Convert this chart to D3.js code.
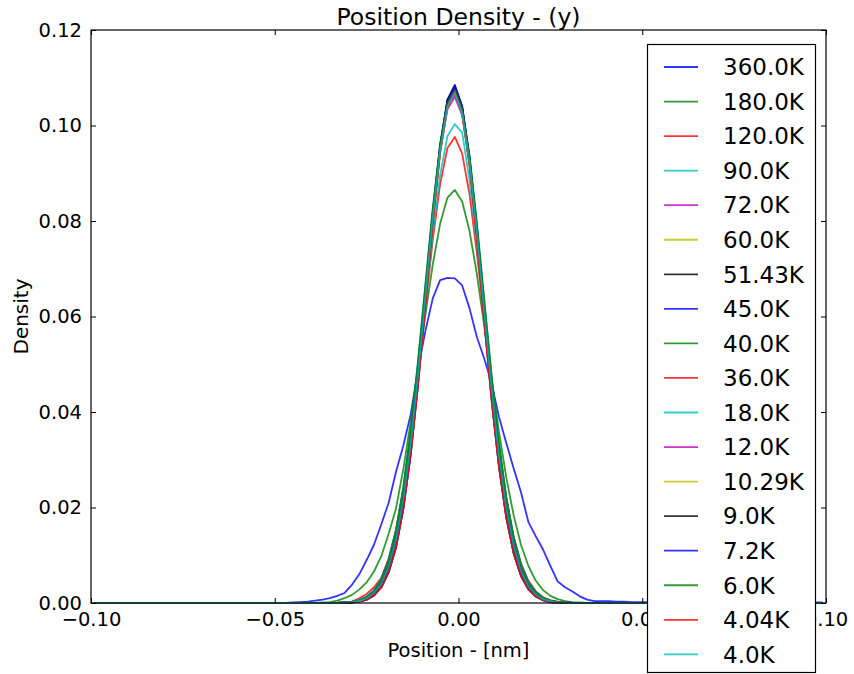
<!DOCTYPE html>
<html>
<head>
<meta charset="utf-8">
<script src="https://cdn.jsdelivr.net/npm/d3@7"></script>
<style>
  html, body { margin: 0; padding: 0; background: #ffffff; }
  svg { display: block; }
  text { font-family: "DejaVu Sans", sans-serif; fill: #000; }
</style>
</head>
<body>
<svg id="chart" width="854" height="674"></svg>
<script>
// ---------------- DATA ----------------
const positions = [-0.099,
  -0.049, -0.047, -0.045, -0.043, -0.041, -0.039, -0.037, -0.035, -0.033, -0.031,
  -0.029, -0.027, -0.025, -0.023, -0.021, -0.019, -0.017, -0.015, -0.013, -0.011,
  -0.009, -0.007, -0.005, -0.003, -0.001,
  0.001, 0.003, 0.005, 0.007, 0.009, 0.011, 0.013, 0.015, 0.017, 0.019,
  0.021, 0.023, 0.025, 0.027, 0.029, 0.031, 0.033, 0.035, 0.037, 0.039,
  0.041, 0.043, 0.045, 0.047, 0.049,
  0.099];

const seriesLabels = ["360.0K", "180.0K", "120.0K", "90.0K", "72.0K", "60.0K", "51.43K", "45.0K", "40.0K",
  "36.0K", "18.0K", "12.0K", "10.29K", "9.0K", "7.2K", "6.0K", "4.04K", "4.0K"];

const d360 = [0,
  0, 0, 0.0001, 0.0002, 0.0003, 0.0005, 0.0007, 0.0010, 0.0015, 0.0021,
  0.0038, 0.0060, 0.0090, 0.0122, 0.0165, 0.0210, 0.0275, 0.0330, 0.0395, 0.0490,
  0.0570, 0.0638, 0.0676, 0.0681, 0.0680,
  0.0665, 0.0617, 0.0557, 0.0512, 0.0460, 0.0390, 0.0335, 0.0282, 0.0232, 0.0170,
  0.0140, 0.0112, 0.0078, 0.0045, 0.0033, 0.0024, 0.0014, 0.0007, 0.0004, 0.0004,
  0.0004, 0.0003, 0.0003, 0.0002, 0.0002,
  0.0001];
const d180 = [0,
  0, 0, 0, 0, 0, 0, 0.0001, 0.0002, 0.0005, 0.0010,
  0.0017, 0.0028, 0.0043, 0.0066, 0.0098, 0.0145, 0.0198, 0.0281, 0.0380, 0.0490,
  0.0604, 0.0709, 0.0794, 0.0849, 0.0865,
  0.0841, 0.0779, 0.0689, 0.0581, 0.0468, 0.0359, 0.0263, 0.0184, 0.0122, 0.0078,
  0.0047, 0.0027, 0.0015, 0.0008, 0.0004, 0.0002, 0.0001, 0, 0, 0,
  0, 0, 0, 0, 0,
  0];
const d120 = [0, 0,0,0,0,0,0,0,0,0,
  0.0001, 0.0003, 0.0010, 0.0019, 0.0033, 0.0053, 0.0093, 0.0153, 0.0237, 0.0347, 0.0478, 0.0621, 0.0760, 0.0877, 0.0953,
  0.0976,
  0.0941, 0.0856, 0.0733, 0.0592, 0.0450, 0.0323, 0.0218, 0.0139, 0.0083, 0.0047, 0.0025, 0.0012, 0.0006, 0.0003, 0.0001,
  0,0,0,0,0,0,0,0,0,0, 0];
const d90 = [0, 0,0,0,0,0,0,0,0,0,
  0.0001, 0.0002, 0.0006, 0.0012, 0.0024, 0.0047, 0.0084, 0.0143, 0.0227, 0.0338, 0.0474, 0.0624, 0.0771, 0.0896, 0.0978,
  0.1003,
  0.0985, 0.0885, 0.0750, 0.0597, 0.0447, 0.0314, 0.0208, 0.0129, 0.0075, 0.0041, 0.0021, 0.0010, 0.0005, 0.0002, 0.0001,
  0,0,0,0,0,0,0,0,0,0, 0];
const d72 = [0, 0,0,0,0,0,0,0,0,0,
  0.0001, 0.0003, 0.0006, 0.0013, 0.0026, 0.0050, 0.0089, 0.0151, 0.0239, 0.0357, 0.0501, 0.0659, 0.0815, 0.0947, 0.1034,
  0.1060,
  0.1021, 0.0924, 0.0785, 0.0627, 0.0470, 0.0331, 0.0219, 0.0136, 0.0080, 0.0044, 0.0023, 0.0011, 0.0005, 0.0002, 0.0001,
  0,0,0,0,0,0,0,0,0,0, 0];
const d60 = [0, 0,0,0,0,0,0,0,0,0,
  0.0001, 0.0002, 0.0004, 0.0010, 0.0021, 0.0041, 0.0077, 0.0134, 0.0219, 0.0335, 0.0480, 0.0643, 0.0807, 0.0947, 0.1039,
  0.1068,
  0.1026, 0.0922, 0.0775, 0.0610, 0.0449, 0.0309, 0.0200, 0.0121, 0.0068, 0.0036, 0.0018, 0.0008, 0.0004, 0.0001, 0.0001,
  0,0,0,0,0,0,0,0,0,0, 0];
const d5143 = [0, 0,0,0,0,0,0,0,0,0,
  0, 0.0001, 0.0003, 0.0007, 0.0016, 0.0033, 0.0065, 0.0118, 0.0200, 0.0315, 0.0462, 0.0632, 0.0805, 0.0954, 0.1054,
  0.1085,
  0.1039, 0.0928, 0.0771, 0.0597, 0.0430, 0.0289, 0.0181, 0.0105, 0.0057, 0.0029, 0.0014, 0.0006, 0.0002, 0.0001, 0,
  0,0,0,0,0,0,0,0,0,0, 0];
const d45 = [0, 0,0,0,0,0,0,0,0,0,
  0.0001, 0.0002, 0.0004, 0.0010, 0.0021, 0.0042, 0.0078, 0.0136, 0.0222, 0.0340, 0.0486, 0.0652, 0.0818, 0.0960, 0.1054,
  0.1083,
  0.1040, 0.0935, 0.0786, 0.0618, 0.0455, 0.0314, 0.0202, 0.0122, 0.0069, 0.0037, 0.0018, 0.0009, 0.0004, 0.0002, 0.0001,
  0,0,0,0,0,0,0,0,0,0, 0];
const d40 = [0, 0,0,0,0,0,0,0,0,0,
  0, 0.0001, 0.0003, 0.0007, 0.0016, 0.0033, 0.0064, 0.0117, 0.0198, 0.0313, 0.0459, 0.0628, 0.0799, 0.0948, 0.1047,
  0.1078,
  0.1033, 0.0922, 0.0766, 0.0593, 0.0428, 0.0287, 0.0180, 0.0105, 0.0057, 0.0029, 0.0013, 0.0006, 0.0002, 0.0001, 0,
  0,0,0,0,0,0,0,0,0,0, 0];
const d36 = [0, 0,0,0,0,0,0,0,0,0,
  0.0001, 0.0002, 0.0004, 0.0010, 0.0021, 0.0042, 0.0077, 0.0135, 0.0220, 0.0336, 0.0481, 0.0645, 0.0810, 0.0950, 0.1043,
  0.1072,
  0.1030, 0.0925, 0.0778, 0.0612, 0.0450, 0.0310, 0.0200, 0.0121, 0.0069, 0.0036, 0.0018, 0.0008, 0.0004, 0.0002, 0.0001,
  0,0,0,0,0,0,0,0,0,0, 0];
const d18 = [0, 0,0,0,0,0,0,0,0,0,
  0.0001, 0.0003, 0.0006, 0.0013, 0.0026, 0.0050, 0.0090, 0.0152, 0.0242, 0.0361, 0.0505, 0.0665, 0.0823, 0.0956, 0.1043,
  0.1070,
  0.1030, 0.0932, 0.0792, 0.0633, 0.0475, 0.0334, 0.0221, 0.0138, 0.0080, 0.0044, 0.0023, 0.0011, 0.0005, 0.0002, 0.0001,
  0,0,0,0,0,0,0,0,0,0, 0];
const d12 = [0, 0,0,0,0,0,0,0,0,0,
  0.0001, 0.0002, 0.0004, 0.0010, 0.0021, 0.0041, 0.0077, 0.0134, 0.0219, 0.0334, 0.0479, 0.0642, 0.0805, 0.0945, 0.1038,
  0.1066,
  0.1024, 0.0920, 0.0773, 0.0608, 0.0448, 0.0309, 0.0199, 0.0120, 0.0068, 0.0036, 0.0018, 0.0008, 0.0004, 0.0001, 0.0001,
  0,0,0,0,0,0,0,0,0,0, 0];
const d1029 = [0, 0,0,0,0,0,0,0,0,0,
  0, 0.0001, 0.0003, 0.0007, 0.0016, 0.0033, 0.0064, 0.0116, 0.0197, 0.0310, 0.0456, 0.0623, 0.0794, 0.0941, 0.1039,
  0.1070,
  0.1025, 0.0915, 0.0760, 0.0589, 0.0424, 0.0285, 0.0178, 0.0104, 0.0056, 0.0028, 0.0013, 0.0006, 0.0002, 0.0001, 0,
  0,0,0,0,0,0,0,0,0,0, 0];
const d9 = [0, 0,0,0,0,0,0,0,0,0,
  0.0001, 0.0002, 0.0004, 0.0010, 0.0021, 0.0042, 0.0078, 0.0136, 0.0221, 0.0339, 0.0485, 0.0650, 0.0816, 0.0957, 0.1051,
  0.1080,
  0.1037, 0.0932, 0.0784, 0.0616, 0.0454, 0.0313, 0.0202, 0.0122, 0.0069, 0.0037, 0.0018, 0.0009, 0.0004, 0.0002, 0.0001,
  0,0,0,0,0,0,0,0,0,0, 0];
const d72b = [0, 0,0,0,0,0,0,0,0,0,
  0, 0.0001, 0.0003, 0.0007, 0.0016, 0.0033, 0.0065, 0.0118, 0.0199, 0.0314, 0.0461, 0.0630, 0.0802, 0.0952, 0.1051,
  0.1082,
  0.1036, 0.0925, 0.0769, 0.0595, 0.0429, 0.0288, 0.0180, 0.0105, 0.0057, 0.0029, 0.0014, 0.0006, 0.0002, 0.0001, 0,
  0,0,0,0,0,0,0,0,0,0, 0];
const d6 = [0, 0,0,0,0,0,0,0,0,0,
  0.0001, 0.0003, 0.0006, 0.0013, 0.0026, 0.0050, 0.0090, 0.0153, 0.0243, 0.0362, 0.0508, 0.0668, 0.0827, 0.0960, 0.1048,
  0.1075,
  0.1035, 0.0937, 0.0796, 0.0636, 0.0477, 0.0336, 0.0223, 0.0138, 0.0081, 0.0044, 0.0023, 0.0011, 0.0005, 0.0002, 0.0001,
  0,0,0,0,0,0,0,0,0,0, 0];
const d404 = [0, 0,0,0,0,0,0,0,0,0,
  0, 0.0001, 0.0003, 0.0007, 0.0016, 0.0033, 0.0065, 0.0116, 0.0198, 0.0311, 0.0457, 0.0624, 0.0795, 0.0943, 0.1041,
  0.1072,
  0.1027, 0.0916, 0.0761, 0.0590, 0.0425, 0.0286, 0.0179, 0.0104, 0.0057, 0.0029, 0.0014, 0.0006, 0.0002, 0.0001, 0,
  0,0,0,0,0,0,0,0,0,0, 0];
const d4 = [0, 0,0,0,0,0,0,0,0,0,
  0.0001, 0.0002, 0.0004, 0.0010, 0.0021, 0.0041, 0.0077, 0.0134, 0.0219, 0.0335, 0.0481, 0.0644, 0.0808, 0.0948, 0.1040,
  0.1069,
  0.1027, 0.0923, 0.0776, 0.0611, 0.0450, 0.0310, 0.0200, 0.0121, 0.0068, 0.0036, 0.0018, 0.0008, 0.0004, 0.0001, 0.0001,
  0,0,0,0,0,0,0,0,0,0, 0];

const seriesValues = [d360, d180, d120, d90, d72, d60, d5143, d45, d40, d36, d18, d12, d1029, d9, d72b, d6, d404, d4];

const xTicks = [-0.10, -0.05, 0.00, 0.05, 0.10];
const yTicks = [0.00, 0.02, 0.04, 0.06, 0.08, 0.10, 0.12];

// matplotlib classic colour cycle
const palette = ["#0000ff", "#008000", "#ff0000", "#00bfbf", "#bf00bf", "#bfbf00", "#000000"];

// ---------------- CHART ----------------
seriesValues.forEach((s, i) => {
  if (s.length !== positions.length) throw new Error("Length mismatch in series " + seriesLabels[i] + ": " + s.length);
});

const margin = { left: 91, top: 30, right: 826, bottom: 603 };
const svg = d3.select("#chart");

const x = d3.scaleLinear().domain([-0.10, 0.10]).range([margin.left, margin.right]);
const y = d3.scaleLinear().domain([0, 0.12]).range([margin.bottom, margin.top]);

svg.append("defs").append("clipPath").attr("id", "clip")
  .append("rect")
  .attr("x", margin.left).attr("y", margin.top - 1)
  .attr("width", margin.right - margin.left).attr("height", margin.bottom - margin.top + 2);

const line = d3.line()
  .x((d, i) => x(positions[i]))
  .y(d => y(d));

const lines = svg.append("g").attr("clip-path", "url(#clip)");
seriesValues.forEach((s, i) => {
  lines.append("path")
    .attr("d", line(s))
    .attr("fill", "none")
    .attr("stroke", palette[i % palette.length])
    .attr("stroke-opacity", 0.8)
    .attr("stroke-width", 1.8)
    .attr("stroke-linejoin", "round");
});

// axes (ticks inside, on all four sides)
const fmtX = v => d3.format(".2f")(v).replace("-", "\u2212");
const fmtY = d3.format(".2f");

const xBottom = svg.append("g").attr("transform", `translate(0,${margin.bottom})`)
  .call(d3.axisBottom(x).tickValues(xTicks).tickFormat(fmtX).tickSizeInner(-5).tickSizeOuter(0).tickPadding(9));
const xTop = svg.append("g").attr("transform", `translate(0,${margin.top})`)
  .call(d3.axisTop(x).tickValues(xTicks).tickFormat("").tickSizeInner(-5).tickSizeOuter(0));
const yLeft = svg.append("g").attr("transform", `translate(${margin.left},0)`)
  .call(d3.axisLeft(y).tickValues(yTicks).tickFormat(fmtY).tickSizeInner(-5).tickSizeOuter(0).tickPadding(9));
const yRight = svg.append("g").attr("transform", `translate(${margin.right},0)`)
  .call(d3.axisRight(y).tickValues(yTicks).tickFormat("").tickSizeInner(-5).tickSizeOuter(0));

[xBottom, xTop, yLeft, yRight].forEach(g => {
  g.select(".domain").remove();
  g.selectAll(".tick line").attr("stroke", "#000").attr("stroke-width", 1);
  g.selectAll(".tick text").attr("font-size", 19.5).attr("font-family", "DejaVu Sans").attr("fill", "#000");
});

// frame
svg.append("rect")
  .attr("x", margin.left).attr("y", margin.top)
  .attr("width", margin.right - margin.left).attr("height", margin.bottom - margin.top)
  .attr("fill", "none").attr("stroke", "#000").attr("stroke-width", 1.2);

// title and labels
svg.append("text")
  .attr("x", (margin.left + margin.right) / 2).attr("y", 25)
  .attr("text-anchor", "middle").attr("font-size", 23.5)
  .text("Position Density - (y)");

svg.append("text")
  .attr("x", (margin.left + margin.right) / 2).attr("y", 657)
  .attr("text-anchor", "middle").attr("font-size", 19.5)
  .attr("font-family", "Open Sans")
  .text("Position - [nm]");

svg.append("text")
  .attr("transform", `translate(28,${(margin.top + margin.bottom) / 2}) rotate(-90)`)
  .attr("text-anchor", "middle").attr("font-size", 20)
  .attr("font-family", "Open Sans")
  .text("Density");

// legend
const legend = svg.append("g");
legend.append("rect")
  .attr("x", 647.5).attr("y", 44.5).attr("width", 168).attr("height", 628)
  .attr("fill", "#fff").attr("stroke", "#000").attr("stroke-width", 1.2);

seriesLabels.forEach((lab, i) => {
  const yy = 67 + i * 34.55;
  legend.append("line")
    .attr("x1", 664).attr("x2", 698).attr("y1", yy).attr("y2", yy)
    .attr("stroke", palette[i % palette.length]).attr("stroke-opacity", 0.8).attr("stroke-width", 1.8);
  legend.append("text")
    .attr("x", 723).attr("y", yy).attr("dy", "0.36em")
    .attr("font-size", 23)
    .text(lab);
});
</script>
</body>
</html>
